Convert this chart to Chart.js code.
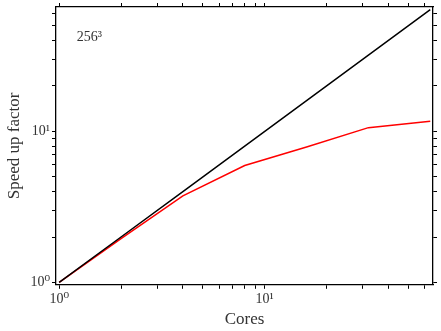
<!DOCTYPE html>
<html>
<head>
<meta charset="utf-8">
<script src="https://cdn.jsdelivr.net/npm/chart.js@4"></script>
<style>
  html, body { margin: 0; padding: 0; background: #fff; }
  #wrap { width: 441px; height: 331px; }
</style>
</head>
<body>
<div id="wrap"><canvas id="chartSpeedup"></canvas></div>
<script>
// data
const cores = [1, 2, 4, 8, 16, 32, 64];
const ideal = [1, 2, 4, 8, 16, 32, 64];
const speedup = [1, 1.95, 3.75, 5.95, 7.9, 10.6, 11.7];
const tickValues = [1, 2, 3, 4, 5, 6, 7, 8, 9, 10, 20, 30, 40, 50, 60];
const tickLabels = { 1: '10\u2070', 10: '10\u00b9' };
const gridLabel = '256\u00b3';

const xRange = { min: 0.965, max: 66 };
const yRange = { min: 0.965, max: 66.7 };
const font = "'Liberation Serif', 'DejaVu Serif', serif";

Chart.defaults.font.family = font;
Chart.defaults.color = '#222';

function pts(ys) {
    return cores.map((c, i) => ({ x: c, y: ys[i] }));
}

function setTicks(scale) {
    scale.ticks = tickValues.map(v => ({ value: v }));
}

function axis(position, showLabels, range) {
    return {
        type: 'logarithmic',
        position: position,
        min: range.min,
        max: range.max,
        afterBuildTicks: setTicks,
        // the empty top label shouldn't push the plot down
        afterFit: s => { s.paddingTop = 0; s.paddingRight = 0; },
        border: { display: true, color: '#000', width: 1.3 },
        grid: { drawOnChartArea: false, drawTicks: true, tickLength: 4, color: '#000', tickWidth: 1 },
        ticks: {
            display: showLabels,
            autoSkip: false,
            maxRotation: 0,
            padding: 2,
            font: { size: 14 },
            color: '#333',
            callback: v => tickLabels[v] || ''
        }
    };
}

// "256^3" label in axes coords
const cornerText = {
    id: 'cornerText',
    afterDraw(chart) {
        const a = chart.chartArea;
        const ctx = chart.ctx;
        ctx.save();
        ctx.font = '14px ' + font;
        ctx.fillStyle = '#333';
        ctx.textAlign = 'left';
        ctx.textBaseline = 'middle';
        ctx.fillText(gridLabel, a.left + 0.055 * (a.right - a.left), a.top + 0.11 * (a.bottom - a.top));
        ctx.restore();
    }
};

const xAxis = axis('bottom', true, xRange);
xAxis.title = { display: true, text: 'Cores', font: { size: 17 }, color: '#333', padding: { top: 0, bottom: 0 } };
const yAxis = axis('left', true, yRange);
yAxis.title = { display: true, text: 'Speed up factor', font: { size: 17 }, color: '#333', padding: { top: 0, bottom: 4 } };

new Chart(document.getElementById('chartSpeedup'), {
    type: 'scatter',
    data: {
        datasets: [{
            label: 'ideal',
            data: pts(ideal),
            showLine: true,
            borderColor: '#000',
            borderWidth: 1.5,
            pointRadius: 0,
            tension: 0
        }, {
            label: 'measured',
            data: pts(speedup),
            showLine: true,
            borderColor: '#ff0000',
            borderWidth: 1.5,
            pointRadius: 0,
            tension: 0
        }]
    },
    options: {
        responsive: true,
        maintainAspectRatio: false,
        animation: false,
        layout: { padding: { left: 4, right: 4, top: 3, bottom: 1 } },
        plugins: {
            legend: { display: false },
            tooltip: { enabled: false }
        },
        scales: {
            x: xAxis,
            y: yAxis,
            x2: axis('top', false, xRange),
            y2: axis('right', false, yRange)
        }
    },
    plugins: [cornerText]
});
</script>
</body>
</html>
